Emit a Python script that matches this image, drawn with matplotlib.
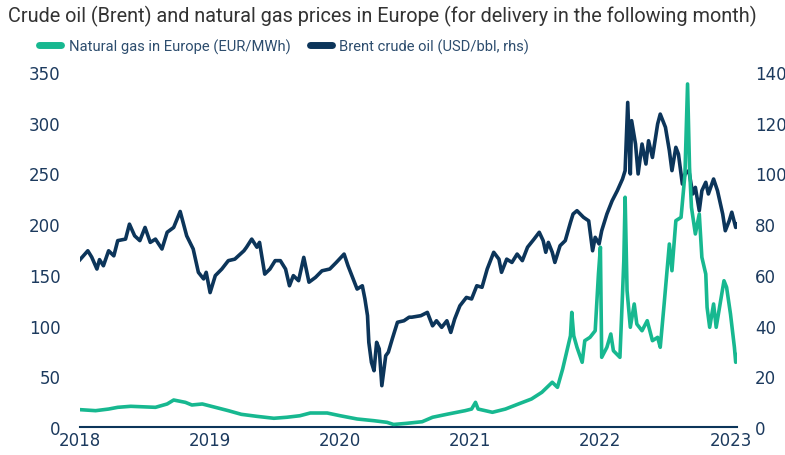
import matplotlib
matplotlib.use("Agg")
import matplotlib.pyplot as plt
from matplotlib.lines import Line2D

# Brent crude oil (USD/bbl), time as decimal years
brent_t = [2018.00, 2018.06, 2018.09, 2018.13, 2018.15, 2018.18, 2018.22, 2018.26, 2018.29, 2018.35,
           2018.38, 2018.42, 2018.46, 2018.50, 2018.54, 2018.58, 2018.63, 2018.67, 2018.72, 2018.77,
           2018.82, 2018.87, 2018.91, 2018.95, 2018.97, 2019.00, 2019.04, 2019.09, 2019.14, 2019.19,
           2019.26, 2019.28, 2019.32, 2019.36, 2019.38, 2019.42, 2019.46, 2019.50, 2019.54, 2019.58,
           2019.61, 2019.64, 2019.68, 2019.72, 2019.76, 2019.81, 2019.86, 2019.92, 2019.97, 2020.03,
           2020.06, 2020.10, 2020.13, 2020.17, 2020.19, 2020.21, 2020.22, 2020.24, 2020.26, 2020.28,
           2020.30, 2020.32, 2020.35, 2020.37, 2020.40, 2020.44, 2020.49, 2020.53, 2020.55, 2020.62,
           2020.67, 2020.71, 2020.74, 2020.78, 2020.82, 2020.85, 2020.88, 2020.92, 2020.97, 2021.01,
           2021.05, 2021.09, 2021.13, 2021.18, 2021.22, 2021.24, 2021.28, 2021.32, 2021.36, 2021.40,
           2021.44, 2021.49, 2021.53, 2021.56, 2021.58, 2021.60, 2021.63, 2021.65, 2021.69, 2021.73,
           2021.77, 2021.79, 2021.82, 2021.87, 2021.91, 2021.94, 2021.96, 2021.99, 2022.01, 2022.05,
           2022.09, 2022.13, 2022.17, 2022.19, 2022.21, 2022.23, 2022.24, 2022.27, 2022.29, 2022.32,
           2022.35, 2022.37, 2022.40, 2022.44, 2022.46, 2022.50, 2022.53, 2022.55, 2022.58, 2022.60,
           2022.63, 2022.65, 2022.68, 2022.71, 2022.73, 2022.76, 2022.78, 2022.81, 2022.83, 2022.87,
           2022.90, 2022.94, 2022.96, 2022.99, 2023.01, 2023.04, 2023.05]
brent = [66.0, 69.5, 67.0, 62.3, 66.0, 63.6, 69.5, 67.5, 73.5, 74.1,
         80.0, 75.4, 73.5, 78.7, 72.8, 74.1, 70.2, 76.8, 78.7, 85.0,
         75.4, 70.2, 61.0, 58.4, 61.0, 53.0, 59.7, 62.3, 65.6, 66.2,
         69.5, 70.9, 74.1, 70.9, 72.8, 60.3, 62.3, 65.6, 65.6, 62.3,
         55.7, 59.7, 57.7, 66.9, 57.1, 59.0, 61.6, 62.3, 64.9, 68.2,
         63.6, 58.4, 54.4, 55.7, 50.5, 43.9, 33.4, 25.5, 22.2, 33.4,
         30.8, 16.3, 28.1, 29.5, 34.7, 41.3, 41.9, 43.3, 43.3, 43.9,
         45.2, 39.9, 41.9, 39.3, 41.9, 37.3, 42.6, 47.8, 51.1, 50.5,
         55.7, 55.1, 62.3, 68.9, 66.2, 61.0, 66.2, 64.9, 68.2, 65.6,
         70.9, 74.1, 76.8, 73.5, 68.9, 72.8, 68.9, 64.9, 71.5, 73.5,
         80.7, 84.0, 85.3, 82.7, 81.3, 69.5, 74.8, 72.2, 77.4, 84.0,
         89.2, 93.2, 97.8, 101.1, 128.0, 99.8, 120.8, 111.6, 99.8, 111.6,
         103.7, 112.9, 106.3, 119.5, 123.4, 118.2, 109.0, 101.1, 110.3, 107.6,
         95.8, 99.8, 101.1, 91.9, 94.5, 85.3, 93.2, 96.5, 91.9, 97.8,
         93.2, 84.0, 77.4, 81.3, 84.7, 78.7, 80.0]

# Natural gas in Europe (EUR/MWh)
gas_t = [2018.00, 2018.12, 2018.22, 2018.29, 2018.39, 2018.58, 2018.67, 2018.72, 2018.81, 2018.86,
         2018.94, 2019.04, 2019.14, 2019.24, 2019.36, 2019.49, 2019.59, 2019.69, 2019.77, 2019.90,
         2020.00, 2020.13, 2020.26, 2020.36, 2020.41, 2020.51, 2020.63, 2020.71, 2020.83, 2020.96,
         2021.01, 2021.04, 2021.06, 2021.17, 2021.27, 2021.37, 2021.47, 2021.55, 2021.63, 2021.67,
         2021.71, 2021.74, 2021.77, 2021.78, 2021.795, 2021.82, 2021.86, 2021.88, 2021.92, 2021.96,
         2021.985, 2022.00, 2022.01, 2022.05, 2022.08, 2022.10, 2022.15, 2022.17, 2022.18, 2022.19,
         2022.205, 2022.23, 2022.26, 2022.28, 2022.32, 2022.36, 2022.40, 2022.44, 2022.46, 2022.49,
         2022.53, 2022.55, 2022.58, 2022.62, 2022.65, 2022.67, 2022.685, 2022.70, 2022.73, 2022.76,
         2022.78, 2022.81, 2022.82, 2022.84, 2022.87, 2022.89, 2022.92, 2022.95, 2022.97, 2023.00,
         2023.03, 2023.04, 2023.06]
gas = [17.1, 16.1, 17.7, 19.4, 20.4, 19.4, 22.7, 26.6, 24.3, 21.7,
       22.7, 19.4, 16.1, 12.5, 10.5, 8.6, 9.6, 11.1, 13.8, 13.8,
       11.1, 7.9, 6.2, 4.6, 2.5, 3.6, 5.2, 9.6, 12.8, 16.1,
       17.7, 24.3, 17.7, 14.5, 17.7, 22.7, 27.6, 34.2, 44.1, 39.1,
       57.2, 73.6, 90.0, 113.0, 90.0, 78.6, 63.8, 85.1, 88.4, 94.9,
       150.8, 177.2, 68.7, 78.6, 91.7, 75.2, 68.7, 131.1, 164.0, 226.5,
       134.4, 98.3, 121.3, 101.5, 94.9, 104.8, 85.1, 88.4, 78.6, 121.3,
       180.4, 154.1, 203.4, 206.7, 249.4, 338.2, 256.0, 216.6, 190.3, 210.0,
       167.3, 150.8, 118.0, 98.3, 121.3, 98.3, 121.3, 144.2, 137.7, 111.4,
       78.6, 63.8, 72.0]

years = [2018, 2019, 2020, 2021, 2022, 2023]
left_ticks = [0, 50, 100, 150, 200, 250, 300, 350]
right_ticks = [0, 20, 40, 60, 80, 100, 120, 140]

green = "#17b890"
navy = "#0c355a"
tick_col = "#1c3a5e"

fig = plt.figure(figsize=(7.85, 4.56), dpi=100)
ax = fig.add_axes([80 / 785, 28 / 456, 657 / 785, 355 / 456])
ax2 = ax.twinx()

ax.plot(gas_t, gas, color=green, lw=2.6, zorder=3)
ax2.plot(brent_t, brent, color=navy, lw=2.6)
# gas line should sit above the brent line
ax.set_zorder(ax2.get_zorder() + 1)
ax.patch.set_visible(False)

ax.set_xlim(2018, 2023.05)
ax.set_ylim(0, 350)
ax2.set_ylim(0, 140)
ax.set_xticks(years)
ax.set_xticklabels([str(y) for y in years])
ax.set_yticks(left_ticks)
ax2.set_yticks(right_ticks)

for a in (ax, ax2):
    for s in a.spines.values():
        s.set_visible(False)
    a.tick_params(length=0, labelsize=12, labelcolor=tick_col)
ax.spines["bottom"].set_visible(True)
ax.spines["bottom"].set_color(navy)
ax.spines["bottom"].set_linewidth(1.5)
ax.tick_params(axis="y", pad=14)
ax2.tick_params(axis="y", pad=13)
ax.tick_params(axis="x", pad=3)

fig.text(8 / 785, 1 - 16 / 456, "Crude oil (Brent) and natural gas prices in Europe (for delivery in the following month)",
         fontsize=14.3, color="#333333", va="center", ha="left", family="Roboto")

handles = [Line2D([], [], color=green, lw=5, solid_capstyle="round"),
           Line2D([], [], color=navy, lw=5, solid_capstyle="round")]
fig.legend(handles, ["Natural gas in Europe (EUR/MWh)", "Brent crude oil (USD/bbl, rhs)"],
           loc="center left", bbox_to_anchor=(26 / 785, 1 - 47 / 456), ncol=2, frameon=False,
           handlelength=1.5, handletextpad=0.5, columnspacing=1.3,
           labelcolor="#2d4d6e", prop={"family": "Roboto", "size": 10.6})

fig.savefig("out.png", dpi=100)
